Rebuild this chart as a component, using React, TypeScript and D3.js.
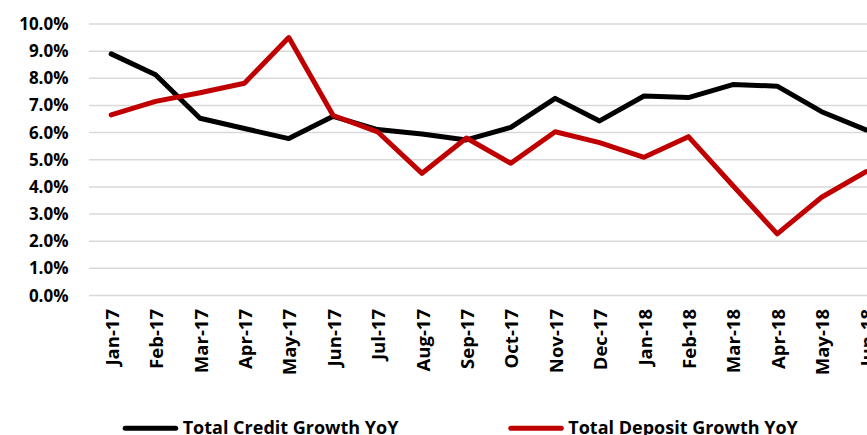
import React from "react";
import * as d3 from "d3";

const months = [
  "Jan-17", "Feb-17", "Mar-17", "Apr-17", "May-17", "Jun-17", "Jul-17", "Aug-17", "Sep-17",
  "Oct-17", "Nov-17", "Dec-17", "Jan-18", "Feb-18", "Mar-18", "Apr-18", "May-18", "Jun-18",
];
const creditGrowth = [8.9, 8.13, 6.53, 6.15, 5.78, 6.6, 6.11, 5.95, 5.73, 6.19, 7.26, 6.43, 7.35, 7.29, 7.77, 7.71, 6.77, 6.1];
const depositGrowth = [6.65, 7.15, 7.47, 7.82, 9.5, 6.63, 6.03, 4.5, 5.8, 4.87, 6.03, 5.63, 5.09, 5.85, 4.05, 2.27, 3.62, 4.56];
const yTicks = [0, 1, 2, 3, 4, 5, 6, 7, 8, 9, 10];
const seriesNames = ["Total Credit Growth YoY", "Total Deposit Growth YoY"];
const seriesColors = ["#000000", "#C00000"];

const W = 867;
const H = 435;
const FONT = "'Open Sans', 'Liberation Sans', sans-serif";

export default function App() {
  const left = 89;
  const step = 44.4;
  const x = d3.scaleBand<string>().domain(months).range([left, left + step * months.length]);
  const y = d3.scaleLinear().domain([0, 10]).range([295.5, 24]);
  const cx = (m: string) => (x(m) as number) + x.bandwidth() / 2;

  const line = d3
    .line<number>()
    .x((_, i) => cx(months[i]))
    .y((v) => y(v));

  const series = [creditGrowth, depositGrowth];
  const legendX = [122.7, 508.3];

  return (
    <svg
      width={W}
      height={H}
      style={{ position: "absolute", left: 0, top: 0, display: "block", background: "#fff" }}
    >
      {/* grid + y axis labels */}
      {yTicks.map((t) => (
        <g key={t}>
          <line x1={left} x2={W + 30} y1={y(t)} y2={y(t)} stroke="#d9d9d9" strokeWidth={1.5} />
          <text
            x={68.5}
            y={y(t) + 6}
            textAnchor="end"
            fontFamily={FONT}
            fontWeight="bold"
            fontSize={17}
            fill="#000"
          >
            {t.toFixed(1) + "%"}
          </text>
        </g>
      ))}

      {/* x axis labels, rotated */}
      {months.map((m) => (
        <text
          key={m}
          transform={`translate(${cx(m) + 7.5},${309}) rotate(-90)`}
          textAnchor="end"
          fontFamily={FONT}
          fontWeight="bold"
          fontSize={18.5}
          fill="#000"
        >
          {m}
        </text>
      ))}

      {/* lines */}
      {series.map((s, i) => (
        <path
          key={i}
          d={line(s) || ""}
          fill="none"
          stroke={seriesColors[i]}
          strokeWidth={5}
          strokeLinejoin="round"
          strokeLinecap="round"
        />
      ))}

      {/* legend */}
      {seriesNames.map((name, i) => (
        <g key={name}>
          <line
            x1={legendX[i] + 2.5}
            x2={legendX[i] + 53}
            y1={428.3}
            y2={428.3}
            stroke={seriesColors[i]}
            strokeWidth={5}
            strokeLinecap="round"
          />
          <text
            x={legendX[i] + 60}
            y={434.3}
            fontFamily={FONT}
            fontWeight="bold"
            fontSize={18}
            fill="#000"
          >
            {name}
          </text>
        </g>
      ))}
    </svg>
  );
}
